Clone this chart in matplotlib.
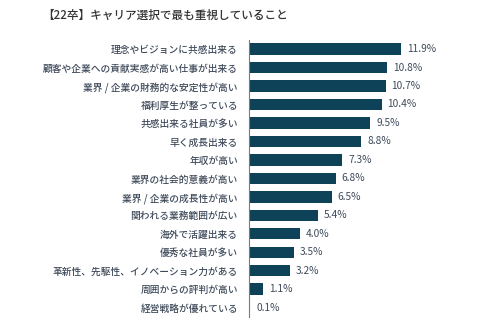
# -*- coding: utf-8 -*-
import matplotlib.pyplot as plt

categories = [
    "理念やビジョンに共感出来る",
    "顧客や企業への貢献実感が高い仕事が出来る",
    "業界 / 企業の財務的な安定性が高い",
    "福利厚生が整っている",
    "共感出来る社員が多い",
    "早く成長出来る",
    "年収が高い",
    "業界の社会的意義が高い",
    "業界 / 企業の成長性が高い",
    "関われる業務範囲が広い",
    "海外で活躍出来る",
    "優秀な社員が多い",
    "革新性、先駆性、イノベーション力がある",
    "周囲からの評判が高い",
    "経営戦略が優れている",
]
values = [11.9, 10.8, 10.7, 10.4, 9.5, 8.8, 7.3, 6.8, 6.5, 5.4, 4.0, 3.5, 3.2, 1.1, 0.1]
title = "【22卒】キャリア選択で最も重視していること"


def main():
    plt.rcParams["font.family"] = ["Noto Sans CJK JP", "DejaVu Sans"]
    bar_color = "#0e4258"
    text_color = "#3e4a5a"

    fig = plt.figure(figsize=(5, 3.24), dpi=100)
    ax = fig.add_axes([0.498, 0.022, 0.4, 0.855])

    y = list(range(len(categories)))
    ax.barh(y, values, height=0.62, color=bar_color)
    for yi, v in zip(y, values):
        ax.text(v + 0.45, yi, f"{v:.1f}%", va="center", ha="left",
                fontsize=7.3, color=text_color)

    ax.set_ylim(len(categories) - 0.5, -0.5)
    ax.set_xlim(0, 15.66)
    ax.set_yticks(y)
    ax.set_yticklabels(categories, fontsize=7.0, color=text_color,
                       fontweight="medium")
    ax.tick_params(axis="y", length=0, pad=8)
    ax.set_xticks([])
    for side in ["top", "right", "bottom"]:
        ax.spines[side].set_visible(False)
    ax.spines["left"].set_color("#7a7a7a")
    ax.spines["left"].set_linewidth(0.8)

    fig.text(0.084, 0.952, title, fontsize=8.4, color="#333333",
             ha="left", va="center", fontweight="medium")

    fig.savefig("out.png", dpi=100)
    plt.close(fig)


if __name__ == "__main__":
    main()
